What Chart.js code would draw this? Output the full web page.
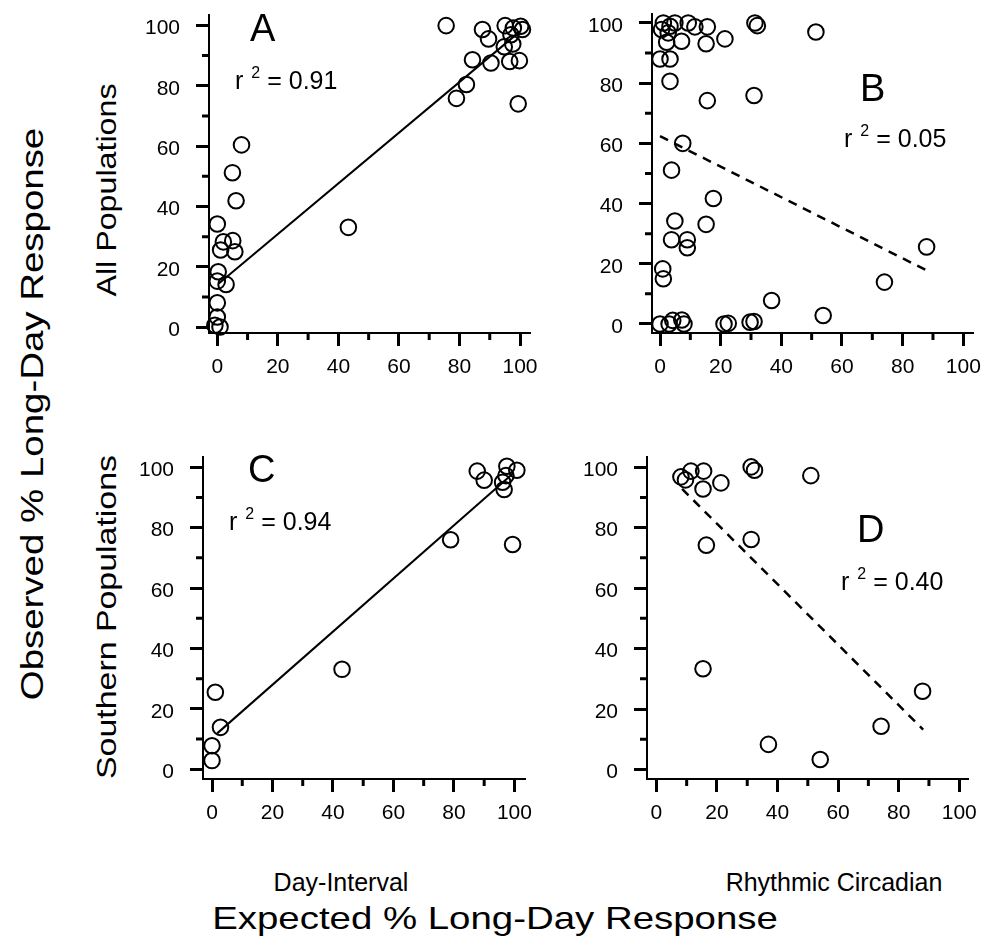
<!DOCTYPE html>
<html>
<head>
<meta charset="utf-8">
<script src="https://cdn.jsdelivr.net/npm/chart.js@4.4.1/dist/chart.umd.min.js"></script>
<style>
  html, body { margin:0; padding:0; background:#fff; }
  #wrap { position:relative; width:982px; height:940px; overflow:hidden; font-family:'Liberation Sans', Arial, sans-serif; color:#000; }
  canvas { position:absolute; }
  .t { position:absolute; white-space:nowrap; line-height:1; }
  .rot { position:absolute; white-space:nowrap; line-height:1; }
  .sup { display:inline-block; font-size:16px; vertical-align:11px; margin-left:8px; }
</style>
</head>
<body>
<div id="wrap">
  <canvas id="cA"></canvas>
  <canvas id="cB"></canvas>
  <canvas id="cC"></canvas>
  <canvas id="cD"></canvas>

  <div class="t" style="left:250px;top:9px;font-size:38px;">A</div>
  <div class="t" style="left:860px;top:69px;font-size:38px;">B</div>
  <div class="t" style="left:248px;top:450px;font-size:38px;">C</div>
  <div class="t" style="left:857px;top:510px;font-size:38px;">D</div>

  <div class="t" style="left:235px;top:65px;font-size:25px;">r<span class="sup">2</span> = 0.91</div>
  <div class="t" style="left:844px;top:123px;font-size:25px;">r<span class="sup">2</span> = 0.05</div>
  <div class="t" style="left:229px;top:506px;font-size:25px;">r<span class="sup">2</span> = 0.94</div>
  <div class="t" style="left:841px;top:566px;font-size:25px;">r<span class="sup">2</span> = 0.40</div>

  <div class="rot" style="left:32px;top:414px;font-size:30.5px;transform:translate(-50%,-50%) rotate(-90deg) scaleX(1.26);">Observed % Long-Day Response</div>
  <div class="rot" style="left:107px;top:190px;font-size:28px;transform:translate(-50%,-50%) rotate(-90deg) scaleX(1.15);">All Populations</div>
  <div class="rot" style="left:107px;top:617px;font-size:28px;transform:translate(-50%,-50%) rotate(-90deg) scaleX(1.21);">Southern Populations</div>

  <div class="rot" style="left:341px;top:882px;font-size:25px;transform:translate(-50%,-50%);">Day-Interval</div>
  <div class="rot" style="left:834px;top:882px;font-size:25px;transform:translate(-50%,-50%);">Rhythmic Circadian</div>
  <div class="rot" style="left:495px;top:918px;font-size:32px;transform:translate(-50%,-50%) scaleX(1.2);">Expected % Long-Day Response</div>
</div>

<script>
// ---------------- DATA ----------------
const tickValues = [0, 20, 40, 60, 80, 100];
const minorTickValues = [10, 30, 50, 70, 90];

// Panel A: All populations vs Day-Interval expectation
const aExpected = [75.6, 87.6, 89.6, 95.1, 97.8, 100.2, 100.8, 97.0, 97.6, 94.8, 99.8, 96.6, 90.4, 84.3, 82.3, 79.0, 99.4, 43.3, 8.0, 5.0, 6.2, 0.0, 2.0, 5.1, 5.8, 1.1, 0.3, 0.0, 2.9, 0.0, 0.0, -0.8, 0.9];
const aObserved = [99.9, 98.6, 95.5, 99.9, 99.1, 99.7, 98.6, 96.9, 93.8, 92.9, 88.3, 88.0, 87.5, 88.6, 80.4, 75.8, 74.0, 33.1, 60.4, 51.2, 41.9, 34.2, 28.3, 28.7, 25.0, 25.6, 18.4, 15.3, 14.2, 8.1, 3.4, 0.7, 0.1];
const aFitX = [0.5, 100];
const aFitY = [14.5, 98];

// Panel B: All populations vs Rhythmic Circadian expectation
const bExpected = [1.1, 4.9, 9.3, 3.3, 11.5, 15.6, 0.5, 2.7, 2.2, 7.1, 15.2, 21.4, 0.0, 3.3, 31.3, 32.1, 51.4, 3.3, 15.6, 31.0, 7.5, 3.8, 17.6, 4.9, 15.2, 3.8, 9.0, 9.0, 0.9, 1.1, 87.9, 74.0, 36.8, 53.8, 0.0, 3.0, 4.2, 7.2, 7.9, 21.1, 22.5, 29.7, 31.0];
const bObserved = [100, 100, 100, 98.9, 98.7, 98.7, 97.8, 96.7, 93.6, 93.9, 93.1, 94.7, 88.0, 88.0, 100, 99.1, 97.0, 80.6, 74.2, 75.9, 60.0, 51.1, 41.7, 34.2, 33.1, 28.0, 28.0, 25.3, 18.3, 15.0, 25.6, 13.9, 7.8, 2.8, 0.0, 0.0, 1.2, 1.3, 0.0, 0.0, 0.2, 0.6, 0.8];
const bFitX = [0, 87.5];
const bFitY = [62.4, 18];

// Panel C: Southern populations vs Day-Interval expectation
const cExpected = [87.7, 90.0, 97.5, 100.8, 97.2, 96.1, 96.6, 78.9, 99.4, 43.0, 1.1, 2.8, 0.0, 0.0];
const cObserved = [98.7, 95.7, 100.3, 99.0, 97.2, 95.0, 92.6, 76.0, 74.4, 33.1, 25.5, 13.9, 7.8, 2.9];
const cFitX = [1.7, 99.7];
const cFitY = [11.9, 98.1];

// Panel D: Southern populations vs Rhythmic Circadian expectation
const dExpected = [8.1, 9.6, 11.4, 15.6, 15.4, 21.3, 31.3, 32.4, 51.0, 16.5, 31.3, 15.4, 87.9, 74.2, 37.0, 54.1];
const dObserved = [96.8, 95.8, 98.7, 98.7, 92.8, 94.8, 100.1, 99.0, 97.2, 74.2, 76.1, 33.3, 25.9, 14.3, 8.3, 3.3];
const dFitX = [8.5, 88.1];
const dFitY = [92.8, 13.2];

// ---------------- LAYOUT ----------------
Chart.defaults.font.family = "'Liberation Sans', Arial, sans-serif";
Chart.defaults.color = '#000';

const YW = 80, XH = 70, PT = 20, PR = 20;

const minorTicks = {
  id: 'minorTicks',
  afterDraw(chart) {
    const ctx = chart.ctx;
    const xs = chart.scales.x, ys = chart.scales.y;
    const a = chart.chartArea;
    ctx.save();
    ctx.strokeStyle = '#000';
    ctx.lineWidth = 3;
    ctx.beginPath();
    minorTickValues.forEach(v => {
      const px = xs.getPixelForValue(v);
      ctx.moveTo(px, a.bottom);
      ctx.lineTo(px, a.bottom + 7);
      const py = ys.getPixelForValue(v);
      ctx.moveTo(a.left, py);
      ctx.lineTo(a.left - 7, py);
    });
    ctx.stroke();
    ctx.restore();
  }
};

function pairs(xs, ys) { return xs.map((x, i) => ({ x: x, y: ys[i] })); }

function makePanel(id, area, xr, yr, ex, ob, fx, fy, dashed) {
  const cv = document.getElementById(id);
  const aw = area.r - area.l, ah = area.b - area.t;
  let w = aw + YW + PR;
  let h = ah + PT + XH;
  cv.width = w; cv.height = h;

  const axisCommon = {
    type: 'linear',
    afterBuildTicks: s => { s.ticks = tickValues.map(v => ({ value: v })); },
    grid: { drawOnChartArea: false, drawTicks: true, tickLength: 13, tickWidth: 3, tickColor: '#000' },
    border: { display: true, color: '#000', width: 2 }
  };

  const ch = new Chart(cv, {
    type: 'scatter',
    data: {
      datasets: [
        {
          data: pairs(fx, fy), showLine: true, borderColor: '#000',
          borderWidth: dashed ? 2.5 : 2, borderDash: dashed ? [9, 7] : [],
          pointRadius: 0, fill: false, order: 2, clip: false
        },
        {
          data: pairs(ex, ob), pointRadius: 7.8, pointBorderWidth: 2,
          pointBorderColor: '#000', pointBackgroundColor: 'rgba(0,0,0,0)',
          order: 1, clip: false
        }
      ]
    },
    options: {
      responsive: false, maintainAspectRatio: false, animation: false, devicePixelRatio: 1,
      layout: { padding: { top: PT, right: PR, left: 0, bottom: 0 } },
      plugins: { legend: { display: false }, tooltip: { enabled: false } },
      scales: {
        x: Object.assign({}, axisCommon, {
          min: xr[0], max: xr[1],
          afterFit: s => { s.height = XH; },
          ticks: { color: '#000', font: { size: 21 }, padding: 9, maxRotation: 0, autoSkip: false }
        }),
        y: Object.assign({}, axisCommon, {
          min: yr[0], max: yr[1],
          afterFit: s => { s.width = YW; },
          ticks: { color: '#000', font: { size: 21 }, padding: 16, labelOffset: 3, autoSkip: false }
        })
      }
    },
    plugins: [minorTicks]
  });

  // make the plot area land exactly on the requested rectangle
  for (let k = 0; k < 3; k++) {
    const ca = ch.chartArea;
    const dw = aw - (ca.right - ca.left);
    const dh = ah - (ca.bottom - ca.top);
    if (Math.abs(dw) < 0.5 && Math.abs(dh) < 0.5) break;
    w = Math.round(w + dw); h = Math.round(h + dh);
    ch.resize(w, h);
  }
  const ca = ch.chartArea;
  cv.style.width = cv.width + 'px';
  cv.style.height = cv.height + 'px';
  cv.style.left = (area.l - ca.left) + 'px';
  cv.style.top = (area.t - ca.top) + 'px';
}

makePanel('cA', { l: 209, t: 15, r: 530, b: 333 }, [-2.74, 103.3], [-1.89, 103.55], aExpected, aObserved, aFitX, aFitY, false);
makePanel('cB', { l: 652, t: 14, r: 973, b: 333 }, [-2.64, 103.2], [-3.0, 103.1], bExpected, bObserved, bFitX, bFitY, true);
makePanel('cC', { l: 203, t: 457, r: 525, b: 779 }, [-2.98, 103.5], [-3.2, 103.5], cExpected, cObserved, cFitX, cFitY, false);
makePanel('cD', { l: 647, t: 457, r: 968, b: 779 }, [-3.1, 102.9], [-3.15, 103.5], dExpected, dObserved, dFitX, dFitY, true);
</script>
</body>
</html>
